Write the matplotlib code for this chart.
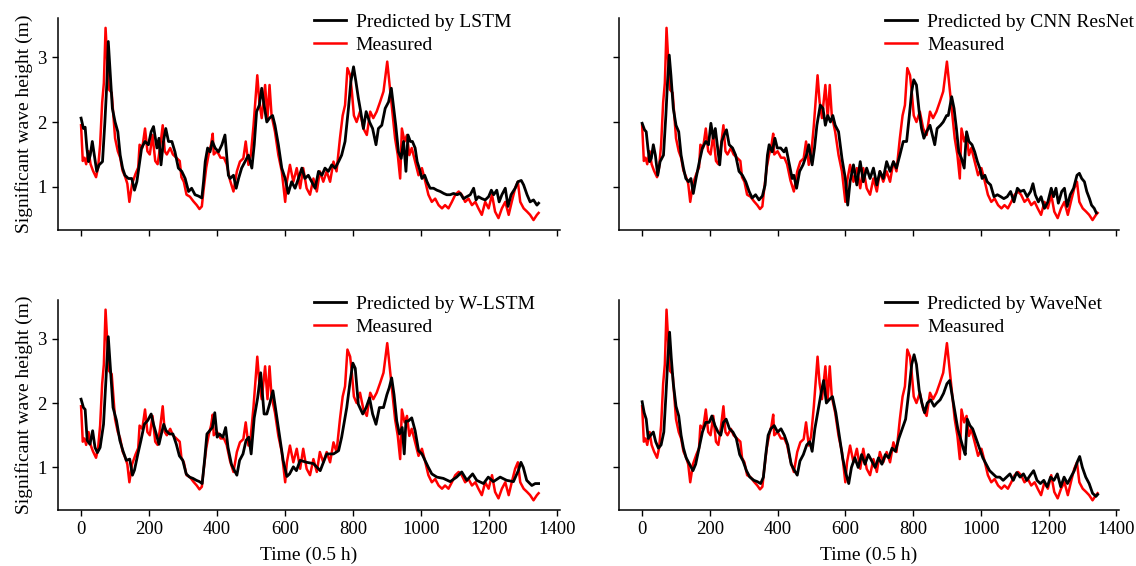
import numpy as np
import matplotlib
matplotlib.use('Agg')
import matplotlib.pyplot as plt

#---------------------DATA -------------------------------------------------------------------------------

# Measured significant wave height (shared by all four panels)
t_meas = [0, 5, 10, 15, 22, 28, 35, 44, 50, 56, 62, 67, 72, 77, 82, 90, 95, 100, 108, 115,
          122, 130, 136, 142, 150, 160, 168, 172, 180, 188, 195, 202, 210, 218, 225, 232, 240, 246, 252, 262,
          270, 280, 290, 295, 302, 310, 320, 330, 340, 348, 355, 360, 368, 375, 382, 387, 390, 400, 410, 420,
          428, 438, 448, 458, 467, 477, 484, 492, 499, 507, 512, 518, 524, 531, 541, 548, 554, 560, 570, 580,
          590, 600, 605, 614, 624, 634, 644, 653, 663, 673, 683, 693, 702, 712, 722, 732, 742, 751, 761, 769,
          776, 783, 791, 796, 802, 810, 820, 830, 840, 850, 859, 869, 879, 889, 900, 909, 916, 923, 931, 938,
          943, 951, 958, 965, 972, 982, 992, 1002, 1012, 1021, 1031, 1041, 1051, 1061, 1070, 1080, 1090, 1100, 1110, 1119,
          1129, 1139, 1149, 1159, 1168, 1178, 1188, 1198, 1208, 1217, 1227, 1237, 1247, 1257, 1266, 1276, 1284, 1291, 1301, 1311,
          1320, 1330, 1340, 1345]
h_meas = [1.95, 1.40, 1.45, 1.35, 1.55, 1.35, 1.25, 1.15, 1.30, 1.65, 2.30, 2.60, 3.45, 2.95, 2.50, 2.45, 2.10, 1.75, 1.55, 1.45,
          1.25, 1.15, 1.05, 0.77, 1.05, 1.20, 1.30, 1.65, 1.60, 1.90, 1.55, 1.50, 1.80, 1.40, 1.35, 1.60, 1.95, 1.55, 1.50, 1.60,
          1.50, 1.45, 1.40, 1.15, 1.08, 0.88, 0.85, 0.78, 0.72, 0.66, 0.70, 0.95, 1.30, 1.50, 1.65, 1.82, 1.50, 1.55, 1.45, 1.45,
          1.35, 1.10, 0.93, 1.24, 1.39, 1.44, 1.70, 1.34, 1.49, 1.95, 2.31, 2.72, 2.31, 2.06, 2.57, 2.06, 2.57, 2.10, 1.85, 1.49,
          1.24, 0.77, 1.08, 1.34, 1.08, 1.29, 0.98, 1.29, 0.98, 0.88, 1.13, 0.93, 1.24, 1.08, 1.24, 1.08, 1.39, 1.24, 1.75, 2.10,
          2.26, 2.83, 2.72, 2.47, 2.10, 2.00, 2.16, 1.90, 1.80, 2.16, 2.06, 2.16, 2.31, 2.47, 2.93, 2.47, 2.10, 1.75, 1.49, 1.13,
          1.90, 1.70, 1.80, 1.49, 1.60, 1.39, 1.18, 1.29, 1.08, 0.88, 0.77, 0.82, 0.72, 0.67, 0.72, 0.67, 0.77, 0.88, 0.93, 0.88,
          0.77, 0.82, 0.72, 0.77, 0.67, 0.57, 0.77, 0.67, 0.88, 0.62, 0.52, 0.67, 0.77, 0.57, 0.77, 0.98, 1.08, 0.77, 0.67, 0.62,
          0.57, 0.49, 0.57, 0.60]

# Predicted by LSTM
t_lstm = [0, 7, 12, 17, 22, 27, 33, 39, 46, 53, 63, 70, 76, 80, 86, 92, 100, 108, 115, 122,
          129, 139, 149, 157, 164, 171, 178, 188, 198, 206, 213, 223, 229, 235, 242, 249, 257, 267, 276, 286,
          296, 306, 316, 325, 335, 345, 355, 360, 365, 372, 379, 386, 394, 404, 414, 423, 428, 433, 438, 448,
          456, 463, 472, 482, 492, 502, 509, 516, 524, 531, 538, 546, 554, 563, 570, 580, 590, 600, 609, 619,
          629, 639, 649, 658, 668, 678, 688, 698, 708, 717, 727, 737, 747, 757, 766, 776, 786, 793, 801, 808,
          815, 822, 830, 838, 848, 857, 867, 874, 884, 894, 904, 912, 919, 925, 933, 941, 948, 955, 961, 968,
          974, 982, 988, 994, 1002, 1010, 1017, 1026, 1036, 1046, 1056, 1066, 1075, 1085, 1095, 1105, 1115, 1124, 1134, 1144,
          1154, 1161, 1168, 1178, 1188, 1198, 1206, 1213, 1222, 1229, 1237, 1247, 1255, 1264, 1276, 1284, 1294, 1301, 1311, 1320,
          1330, 1340, 1345]
h_lstm = [2.06, 1.90, 1.92, 1.60, 1.39, 1.49, 1.70, 1.49, 1.24, 1.34, 1.39, 2.00, 2.62, 3.24, 2.72, 2.21, 2.00, 1.85, 1.49, 1.29,
          1.18, 1.13, 1.13, 0.95, 1.08, 1.34, 1.60, 1.70, 1.65, 1.85, 1.93, 1.60, 1.75, 1.34, 1.70, 1.90, 1.70, 1.70, 1.54, 1.29,
          1.24, 1.13, 0.93, 0.98, 0.88, 0.86, 0.83, 1.08, 1.39, 1.60, 1.54, 1.70, 1.60, 1.54, 1.65, 1.80, 1.49, 1.18, 1.13, 1.18,
          0.98, 1.13, 1.29, 1.39, 1.49, 1.29, 1.65, 2.16, 2.26, 2.52, 2.26, 2.00, 2.06, 2.10, 1.95, 1.65, 1.29, 1.13, 0.90, 1.08,
          0.98, 1.13, 1.29, 1.13, 1.18, 1.08, 0.98, 1.24, 1.18, 1.29, 1.24, 1.34, 1.29, 1.39, 1.49, 1.70, 2.21, 2.62, 2.85, 2.62,
          2.37, 2.16, 1.90, 2.16, 2.00, 1.90, 1.65, 1.90, 1.95, 2.21, 2.31, 2.52, 2.21, 1.95, 1.54, 1.44, 1.70, 1.24, 1.80, 1.70,
          1.70, 1.60, 1.39, 1.29, 1.13, 1.18, 1.08, 0.98, 0.98, 0.95, 0.93, 0.90, 0.88, 0.88, 0.90, 0.88, 0.90, 0.82, 0.85, 0.88,
          0.98, 0.80, 0.85, 0.82, 0.80, 0.85, 0.95, 0.88, 0.95, 0.77, 0.88, 0.98, 0.70, 0.88, 0.98, 1.08, 1.10, 1.03, 0.88, 0.77,
          0.80, 0.72, 0.75]

# Predicted by CNN ResNet
t_cnn = [0, 7, 12, 17, 22, 27, 33, 39, 46, 53, 63, 70, 75, 80, 85, 92, 100, 108, 115, 122,
         129, 137, 144, 151, 159, 169, 178, 188, 196, 203, 210, 216, 223, 229, 235, 242, 249, 257, 267, 276,
         286, 296, 306, 316, 325, 335, 345, 355, 363, 370, 375, 384, 392, 399, 409, 419, 425, 433, 443, 448,
         456, 465, 475, 485, 492, 502, 509, 516, 526, 534, 541, 548, 556, 563, 570, 580, 590, 600, 607, 614,
         624, 634, 644, 653, 663, 673, 683, 693, 702, 712, 722, 732, 742, 751, 761, 771, 781, 789, 796, 802,
         810, 818, 825, 832, 840, 850, 857, 864, 871, 881, 889, 899, 904, 914, 921, 928, 935, 943, 951, 958,
         965, 974, 982, 990, 997, 1004, 1012, 1019, 1029, 1039, 1049, 1059, 1068, 1078, 1088, 1098, 1108, 1117, 1127, 1137,
         1147, 1154, 1161, 1170, 1178, 1188, 1198, 1208, 1215, 1222, 1229, 1239, 1247, 1255, 1264, 1274, 1284, 1291, 1298, 1306,
         1313, 1321, 1327, 1335, 1341]
h_cnn = [1.98, 1.88, 1.85, 1.60, 1.39, 1.44, 1.65, 1.49, 1.18, 1.39, 1.49, 2.10, 2.62, 3.03, 2.72, 2.21, 1.95, 1.85, 1.49, 1.29,
         1.13, 1.08, 1.13, 0.90, 1.13, 1.39, 1.60, 1.70, 1.65, 1.98, 1.75, 1.90, 1.60, 1.34, 1.70, 1.80, 1.88, 1.65, 1.60, 1.49,
         1.24, 1.18, 1.08, 0.93, 0.83, 0.88, 0.80, 0.86, 1.03, 1.49, 1.65, 1.54, 1.75, 1.60, 1.60, 1.54, 1.60, 1.39, 1.13, 1.18,
         0.98, 1.24, 1.34, 1.49, 1.65, 1.34, 1.60, 1.95, 2.26, 2.21, 1.95, 2.10, 2.00, 2.10, 1.95, 1.85, 1.44, 1.13, 0.72, 1.08,
         1.34, 1.03, 1.39, 1.08, 1.29, 1.13, 1.29, 1.03, 1.24, 1.13, 1.39, 1.24, 1.39, 1.29, 1.49, 1.70, 1.70, 2.10, 2.47, 2.65,
         2.57, 2.16, 1.90, 1.75, 1.85, 1.95, 1.80, 1.65, 1.90, 1.95, 2.00, 2.10, 2.10, 2.39, 2.21, 1.90, 1.54, 1.44, 1.29, 1.85,
         1.70, 1.65, 1.54, 1.39, 1.29, 1.13, 1.18, 1.08, 1.03, 0.85, 0.88, 0.85, 0.82, 0.85, 0.93, 0.77, 0.98, 0.93, 0.95, 0.85,
         0.93, 1.05, 0.88, 0.77, 0.85, 0.67, 0.77, 0.98, 0.85, 0.98, 0.75, 0.93, 0.98, 0.70, 0.88, 0.98, 1.18, 1.21, 1.13, 1.08,
         0.93, 0.82, 0.72, 0.67, 0.60]

# Predicted by W-LSTM
t_wlstm = [0, 7, 12, 18, 26, 34, 41, 48, 56, 66, 73, 80, 87, 94, 104, 114, 123, 133, 143, 151,
           157, 167, 176, 186, 196, 206, 213, 221, 229, 236, 243, 250, 260, 270, 280, 289, 299, 309, 319, 329,
           339, 348, 356, 363, 370, 378, 386, 393, 400, 407, 417, 425, 432, 442, 451, 458, 466, 476, 485, 493,
           500, 509, 519, 528, 538, 546, 554, 564, 574, 584, 594, 605, 613, 624, 633, 644, 663, 683, 703, 722,
           742, 757, 766, 781, 791, 799, 806, 815, 828, 838, 848, 857, 867, 877, 889, 899, 906, 913, 920, 928,
           936, 944, 950, 955, 962, 972, 982, 992, 1002, 1011, 1021, 1031, 1046, 1065, 1085, 1104, 1119, 1134, 1151, 1163,
           1183, 1197, 1212, 1232, 1251, 1271, 1286, 1293, 1300, 1310, 1325, 1335, 1345]
h_wlstm = [2.06, 1.93, 1.90, 1.42, 1.36, 1.57, 1.31, 1.23, 1.31, 1.67, 2.34, 3.03, 2.49, 1.93, 1.73, 1.42, 1.26, 1.11, 1.13, 0.88,
           0.96, 1.21, 1.42, 1.67, 1.73, 1.83, 1.67, 1.52, 1.36, 1.52, 1.67, 1.57, 1.52, 1.52, 1.36, 1.18, 1.11, 0.90, 0.85, 0.83,
           0.80, 0.78, 0.75, 1.11, 1.52, 1.57, 1.62, 1.85, 1.47, 1.52, 1.47, 1.62, 1.31, 1.05, 0.95, 0.88, 1.11, 1.21, 1.42, 1.47,
           1.21, 1.77, 2.08, 2.47, 1.83, 1.83, 1.98, 2.19, 1.83, 1.47, 1.11, 0.86, 0.90, 1.01, 0.95, 1.11, 1.08, 1.06, 0.95, 1.21,
           1.21, 1.26, 1.47, 1.93, 2.34, 2.62, 2.54, 1.98, 1.83, 1.93, 2.08, 1.83, 1.67, 1.93, 1.93, 2.13, 2.24, 2.39, 2.13, 1.72,
           1.52, 1.62, 1.21, 1.72, 1.72, 1.77, 1.57, 1.26, 1.21, 1.11, 1.00, 0.90, 0.85, 0.83, 0.78, 0.85, 0.93, 0.80, 0.90, 0.80,
           0.75, 0.85, 0.78, 0.85, 0.80, 0.78, 0.96, 1.08, 1.00, 0.80, 0.72, 0.75, 0.75]

# Predicted by WaveNet
t_wave = [0, 6, 12, 18, 25, 33, 40, 48, 56, 64, 70, 76, 81, 86, 92, 100, 108, 115, 122, 130,
          140, 150, 158, 168, 178, 188, 198, 206, 215, 224, 232, 240, 248, 258, 268, 278, 288, 298, 308, 318,
          330, 340, 350, 358, 365, 372, 380, 390, 400, 410, 420, 430, 440, 450, 458, 466, 476, 486, 495, 502,
          510, 520, 530, 536, 544, 552, 562, 572, 582, 592, 602, 610, 618, 628, 638, 648, 658, 668, 678, 688,
          698, 708, 718, 728, 738, 748, 758, 768, 778, 788, 796, 803, 810, 818, 826, 834, 842, 852, 862, 870,
          880, 890, 900, 908, 916, 924, 932, 940, 948, 954, 960, 968, 976, 986, 996, 1006, 1016, 1026, 1036, 1046,
          1056, 1066, 1076, 1086, 1096, 1106, 1116, 1126, 1136, 1146, 1156, 1166, 1176, 1186, 1196, 1206, 1216, 1226, 1236, 1246,
          1256, 1266, 1276, 1286, 1292, 1300, 1310, 1320, 1330, 1340, 1345]
h_wave = [2.02, 1.85, 1.75, 1.45, 1.50, 1.55, 1.40, 1.30, 1.35, 1.55, 2.10, 2.70, 3.10, 2.70, 2.30, 1.95, 1.80, 1.50, 1.30, 1.15,
          1.05, 0.95, 1.05, 1.30, 1.55, 1.70, 1.70, 1.80, 1.65, 1.55, 1.50, 1.70, 1.75, 1.60, 1.55, 1.45, 1.20, 1.10, 0.95, 0.85,
          0.80, 0.78, 0.75, 0.85, 1.20, 1.50, 1.60, 1.65, 1.55, 1.60, 1.50, 1.35, 1.05, 0.95, 0.88, 1.10, 1.20, 1.35, 1.40, 1.25,
          1.60, 1.90, 2.20, 2.35, 2.00, 2.05, 2.10, 1.85, 1.50, 1.15, 0.90, 0.75, 1.00, 1.15, 1.00, 1.20, 1.05, 1.20, 1.10, 1.00,
          1.15, 1.05, 1.20, 1.15, 1.30, 1.25, 1.45, 1.60, 1.75, 2.20, 2.60, 2.75, 2.60, 2.20, 2.00, 1.85, 2.00, 2.05, 1.95, 2.00,
          2.05, 2.15, 2.30, 2.35, 2.10, 1.85, 1.60, 1.45, 1.30, 1.20, 1.75, 1.65, 1.60, 1.45, 1.30, 1.15, 1.05, 0.95, 0.90, 0.85,
          0.85, 0.80, 0.85, 0.90, 0.80, 0.92, 0.85, 0.90, 0.80, 0.88, 0.95, 0.80, 0.75, 0.80, 0.70, 0.85, 0.80, 0.90, 0.70, 0.85,
          0.75, 0.85, 0.95, 1.10, 1.17, 1.00, 0.85, 0.75, 0.60, 0.55, 0.58]

panels = [
    ("Predicted by LSTM", t_lstm, h_lstm),
    ("Predicted by CNN ResNet", t_cnn, h_cnn),
    ("Predicted by W-LSTM", t_wlstm, h_wlstm),
    ("Predicted by WaveNet", t_wave, h_wave),
]

#---------------------FIGURE ----------------------------------------------
plt.rcParams['font.family'] = ['Liberation Serif', 'DejaVu Serif']
plt.rcParams['font.size'] = 14

fig = plt.figure(figsize=(11.36, 5.66), dpi=100)

# axes boxes in figure fraction: [left, bottom, width, height]
boxes = [
    [0.051, 0.594, 0.442, 0.374],
    [0.545, 0.594, 0.440, 0.374],
    [0.051, 0.099, 0.442, 0.371],
    [0.545, 0.099, 0.440, 0.371],
]
legend_x = [0.494, 0.517, 0.494, 0.517]

for i, (label, t_pred, h_pred) in enumerate(panels):
    ax = fig.add_axes(boxes[i])
    ax.plot(t_meas, h_meas, color='#ff0000', lw=1.8, label='Measured', zorder=2)
    ax.plot(t_pred, h_pred, color='black', lw=2.0, label=label, zorder=3)

    ax.set_xlim(-68, 1408)
    ax.set_ylim(0.34, 3.6)
    ax.set_xticks(np.arange(0, 1401, 200))
    ax.set_yticks([1, 2, 3])

    for side in ['top', 'right']:
        ax.spines[side].set_visible(False)
    for side in ['left', 'bottom']:
        ax.spines[side].set_linewidth(1.1)
    ax.tick_params(direction='out', length=4, width=1.0, labelsize=13.5, pad=4)

    if i < 2:
        ax.tick_params(labelbottom=False)
    else:
        ax.set_xlabel('Time (0.5 h)', fontsize=14, labelpad=6)
    if i % 2 == 1:
        ax.tick_params(labelleft=False)
    else:
        ax.set_ylabel('Significant wave height (m)', fontsize=14, labelpad=3)

    # legend: predicted first, measured second
    handles, labels = ax.get_legend_handles_labels()
    ax.legend(handles[::-1], labels[::-1], loc='upper left', bbox_to_anchor=(legend_x[i], 1.06),
              frameon=False, fontsize=14, handlelength=1.65, handletextpad=0.5,
              labelspacing=0.3, borderaxespad=0.0)

fig.savefig('out.png', dpi=100)
